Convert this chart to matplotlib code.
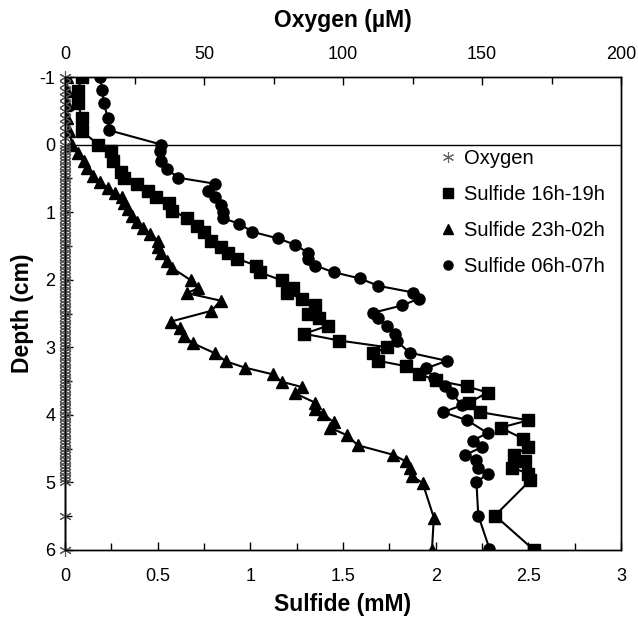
import matplotlib
matplotlib.use("Agg")
import matplotlib.pyplot as plt
from matplotlib.lines import Line2D
from matplotlib.ticker import MultipleLocator

plt.rcParams['font.family'] = ['Liberation Sans', 'DejaVu Sans']
plt.rcParams['axes.unicode_minus'] = False

# Oxygen profile (top axis, uM) - zero everywhere below -1 cm
oxy_depth = [-1.0, -0.9, -0.8, -0.7, -0.6, -0.5, -0.4, -0.3, -0.2, -0.1,
             0.0, 0.05, 0.1, 0.15, 0.2, 0.25, 0.3, 0.35, 0.4, 0.45, 0.5, 0.55, 0.6, 0.65, 0.7, 0.75,
             0.8, 0.85, 0.9, 0.95, 1.0, 1.05, 1.1, 1.15, 1.2, 1.25, 1.3, 1.35, 1.4, 1.45, 1.5, 1.55,
             1.6, 1.65, 1.7, 1.75, 1.8, 1.85, 1.9, 1.95, 2.0, 2.05, 2.1, 2.15, 2.2, 2.25, 2.3, 2.35,
             2.4, 2.45, 2.5, 2.55, 2.6, 2.65, 2.7, 2.75, 2.8, 2.85, 2.9, 2.95, 3.0, 3.05, 3.1, 3.15,
             3.2, 3.25, 3.3, 3.35, 3.4, 3.45, 3.5, 3.55, 3.6, 3.65, 3.7, 3.75, 3.8, 3.85, 3.9, 3.95,
             4.0, 4.05, 4.1, 4.15, 4.2, 4.25, 4.3, 4.35, 4.4, 4.45, 4.5, 4.55, 4.6, 4.65, 4.7, 4.75,
             4.8, 4.85, 4.9, 4.95, 5.0, 5.5, 6.0]
oxygen = [0.0] * len(oxy_depth)

# Sulfide 16h-19h (mM)
s1_depth = [-1.0, -0.8, -0.62, -0.4, -0.2, 0.0, 0.1, 0.25, 0.4, 0.5, 0.58, 0.68, 0.78, 0.87,
            0.98, 1.09, 1.2, 1.3, 1.42, 1.52, 1.6, 1.69, 1.79, 1.89, 2.01, 2.12, 2.2, 2.28, 2.38,
            2.5, 2.57, 2.68, 2.8, 2.9, 3.0, 3.09, 3.2, 3.28, 3.39, 3.49, 3.58, 3.67, 3.82, 3.96,
            4.08, 4.19, 4.35, 4.48, 4.59, 4.69, 4.78, 4.87, 4.97, 5.49, 6.0]
s1 = [0.09, 0.07, 0.07, 0.09, 0.09, 0.18, 0.25, 0.26, 0.30, 0.32, 0.39, 0.45, 0.49, 0.56,
      0.58, 0.66, 0.71, 0.75, 0.79, 0.84, 0.88, 0.93, 1.03, 1.05, 1.17, 1.23, 1.20, 1.28, 1.35,
      1.31, 1.37, 1.42, 1.29, 1.48, 1.74, 1.66, 1.69, 1.84, 1.91, 2.00, 2.17, 2.28, 2.18, 2.24,
      2.50, 2.35, 2.47, 2.50, 2.42, 2.48, 2.41, 2.50, 2.51, 2.32, 2.53]

# Sulfide 23h-02h (mM)
s2_depth = [-1.0, -0.8, -0.6, -0.4, -0.2, 0.0, 0.12, 0.24, 0.34, 0.46, 0.56, 0.64, 0.71, 0.78,
            0.87, 0.96, 1.05, 1.15, 1.23, 1.32, 1.42, 1.52, 1.61, 1.72, 1.83, 2.01, 2.12, 2.2,
            2.31, 2.46, 2.62, 2.72, 2.83, 2.94, 3.09, 3.21, 3.3, 3.4, 3.51, 3.59, 3.68, 3.82,
            3.91, 3.98, 4.11, 4.19, 4.3, 4.45, 4.59, 4.69, 4.79, 4.9, 5.01, 5.52, 6.0]
s2 = [0.01, 0.01, 0.01, 0.01, 0.02, 0.04, 0.07, 0.10, 0.12, 0.15, 0.19, 0.23, 0.27, 0.31,
      0.32, 0.34, 0.36, 0.39, 0.42, 0.46, 0.50, 0.50, 0.52, 0.55, 0.58, 0.68, 0.72, 0.66,
      0.84, 0.79, 0.57, 0.62, 0.64, 0.69, 0.81, 0.87, 0.97, 1.12, 1.17, 1.28, 1.24, 1.35,
      1.35, 1.39, 1.45, 1.43, 1.52, 1.58, 1.77, 1.84, 1.86, 1.87, 1.93, 1.99, 1.98]

# Sulfide 06h-07h (mM)
s3_depth = [-1.0, -0.81, -0.61, -0.4, -0.21, 0.0, 0.1, 0.24, 0.36, 0.49, 0.58, 0.68, 0.78,
            0.9, 1.0, 1.09, 1.17, 1.29, 1.39, 1.48, 1.6, 1.69, 1.79, 1.89, 1.98, 2.09, 2.19,
            2.28, 2.38, 2.49, 2.57, 2.68, 2.8, 2.91, 3.08, 3.2, 3.31, 3.46, 3.57, 3.68, 3.86,
            3.96, 4.08, 4.27, 4.38, 4.48, 4.59, 4.67, 4.78, 4.87, 5.0, 5.49, 5.98]
s3 = [0.19, 0.20, 0.21, 0.23, 0.24, 0.52, 0.51, 0.52, 0.55, 0.61, 0.81, 0.77, 0.81,
      0.84, 0.85, 0.85, 0.94, 1.01, 1.15, 1.24, 1.31, 1.31, 1.35, 1.45, 1.59, 1.69, 1.88,
      1.91, 1.82, 1.66, 1.69, 1.74, 1.78, 1.79, 1.86, 2.06, 1.95, 1.99, 2.05, 2.09, 2.14,
      2.04, 2.17, 2.28, 2.20, 2.25, 2.16, 2.22, 2.23, 2.28, 2.22, 2.23, 2.29]

labels = ['Oxygen', 'Sulfide 16h-19h', 'Sulfide 23h-02h', 'Sulfide 06h-07h']

fig = plt.figure(figsize=(6.38, 6.2), dpi=100)
ax = fig.add_axes([65 / 638, 1 - 550 / 620, (621 - 65) / 638, (550 - 77) / 620])
ax2 = ax.twiny()

ax.plot(s1, s1_depth, color='black', lw=1.5, marker='s', ms=8, zorder=3)
ax.plot(s2, s2_depth, color='black', lw=1.5, marker='^', ms=8, zorder=3)
ax.plot(s3, s3_depth, color='black', lw=1.5, marker='o', ms=8, zorder=3)
ax2.plot(oxygen, oxy_depth, color='black', lw=1.0, marker=(6, 2, 0), ms=9,
         mec='#555555', mew=0.8, clip_on=False)

# sediment surface
ax.axhline(0, color='black', lw=1.0)

ax.set_xlim(0, 3)
ax2.set_xlim(0, 200)
ax.set_ylim(6, -1)

ax.xaxis.set_major_locator(MultipleLocator(0.5))
ax.xaxis.set_minor_locator(MultipleLocator(0.25))
ax2.xaxis.set_major_locator(MultipleLocator(50))
ax2.xaxis.set_minor_locator(MultipleLocator(25))
ax.yaxis.set_major_locator(MultipleLocator(1))
ax.yaxis.set_minor_locator(MultipleLocator(0.5))
ax.set_xticks([0, 0.5, 1, 1.5, 2, 2.5, 3])
ax.set_xticklabels(['0', '0.5', '1', '1.5', '2', '2.5', '3'])

for a in (ax, ax2):
    a.tick_params(which='both', direction='in', labelsize=13, width=1.0)
    a.tick_params(which='major', length=6)
    a.tick_params(which='minor', length=5)
    for sp in a.spines.values():
        sp.set_linewidth(1.0)
ax.tick_params(axis='y', which='both', right=False, pad=7)
ax.tick_params(axis='x', which='major', pad=13)
ax2.tick_params(axis='x', which='major', pad=10)

ax.set_xlabel('Sulfide (mM)', fontsize=16.5, fontweight='bold', labelpad=6)
ax.set_ylabel('Depth (cm)', fontsize=16.5, fontweight='bold', labelpad=4)
ax2.set_xlabel('Oxygen (µM)', fontsize=16.5, fontweight='bold', labelpad=14)

handles = [
    Line2D([], [], ls='none', marker=(6, 2, 0), ms=8, color='#666666', mew=0.8),
    Line2D([], [], ls='none', marker='s', ms=6.5, color='black'),
    Line2D([], [], ls='none', marker='^', ms=6.5, color='black'),
    Line2D([], [], ls='none', marker='o', ms=6.5, color='black'),
]
ax2.legend(handles, labels, loc='upper left', bbox_to_anchor=(422 / 638, 1 - 131 / 620),
           bbox_transform=fig.transFigure, frameon=False, fontsize=14.5,
           handlelength=0.8, handletextpad=0.4, labelspacing=0.85)

fig.savefig('out.png', dpi=100)
